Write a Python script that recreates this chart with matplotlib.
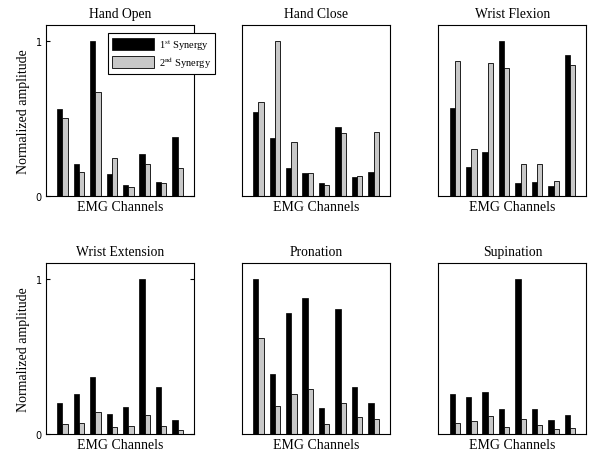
import numpy as np
import matplotlib.pyplot as plt

titles = ['Hand Open', 'Hand Close', 'Wrist Flexion',
          'Wrist Extension', 'Pronation', 'Supination']
channels = np.arange(1, 9)

syn1 = [
    [0.56, 0.205, 1.00, 0.144, 0.071, 0.274, 0.090, 0.381],
    [0.541, 0.371, 0.183, 0.149, 0.086, 0.448, 0.121, 0.157],
    [0.565, 0.190, 0.284, 1.00, 0.082, 0.090, 0.065, 0.907],
    [0.200, 0.255, 0.365, 0.131, 0.174, 1.00, 0.303, 0.090],
    [1.00, 0.384, 0.783, 0.876, 0.167, 0.805, 0.303, 0.200],
    [0.260, 0.240, 0.273, 0.163, 1.00, 0.159, 0.090, 0.120],
]
syn2 = [
    [0.500, 0.157, 0.668, 0.248, 0.058, 0.205, 0.082, 0.179],
    [0.608, 1.00, 0.349, 0.151, 0.073, 0.407, 0.127, 0.412],
    [0.869, 0.304, 0.860, 0.823, 0.209, 0.205, 0.099, 0.847],
    [0.062, 0.069, 0.139, 0.045, 0.054, 0.120, 0.054, 0.028],
    [0.620, 0.182, 0.260, 0.290, 0.062, 0.197, 0.109, 0.094],
    [0.073, 0.084, 0.114, 0.047, 0.094, 0.058, 0.032, 0.039],
]

plt.rcParams['mathtext.fontset'] = 'stix'
serif = 'Liberation Serif'
fig = plt.figure(figsize=(5.9, 4.56), dpi=100)

lefts = [0.078, 0.410, 0.743]
bottoms = [0.568, 0.046]
w, h = 0.251, 0.374
bw = 0.32

for i, name in enumerate(titles):
    r, c = divmod(i, 3)
    ax = fig.add_axes([lefts[c], bottoms[r], w, h])
    b1 = ax.bar(channels - bw / 2, syn1[i], width=bw, color='black',
                edgecolor='black', linewidth=0.5)
    b2 = ax.bar(channels + bw / 2, syn2[i], width=bw, color='#c8c8c8',
                edgecolor='black', linewidth=0.6)
    ax.set_xlim(0, 9)
    ax.set_ylim(0, 1.1)
    ax.set_xticks([])
    ax.set_title(name, fontfamily=serif, fontsize=9.8, pad=6)
    ax.set_xlabel('EMG Channels', fontfamily=serif, fontsize=10, labelpad=3)
    for s in ax.spines.values():
        s.set_linewidth(0.8)
    if c == 0:
        ax.set_yticks([0, 1])
        ax.tick_params(axis='y', direction='in', right=True, length=3,
                       labelsize=7, pad=3)
        ax.set_ylabel('Normalized amplitude', fontfamily=serif, fontsize=10,
                      labelpad=4)
    else:
        ax.set_yticks([])
    if i == 0:
        leg = ax.legend([b1, b2], ['1$^{\\rm st}$ Synergy', '2$^{\\rm nd}$ Synergy'],
                        loc='upper left', bbox_to_anchor=(0.42, 0.955),
                        prop={'family': serif, 'size': 7.5}, fancybox=False,
                        framealpha=1, edgecolor='black', handlelength=4.0,
                        handleheight=1.4, borderpad=0.35, labelspacing=0.25,
                        handletextpad=0.5, borderaxespad=0)
        leg.get_frame().set_linewidth(0.8)
        leg.set_zorder(5)

fig.savefig('out.png', dpi=100)
